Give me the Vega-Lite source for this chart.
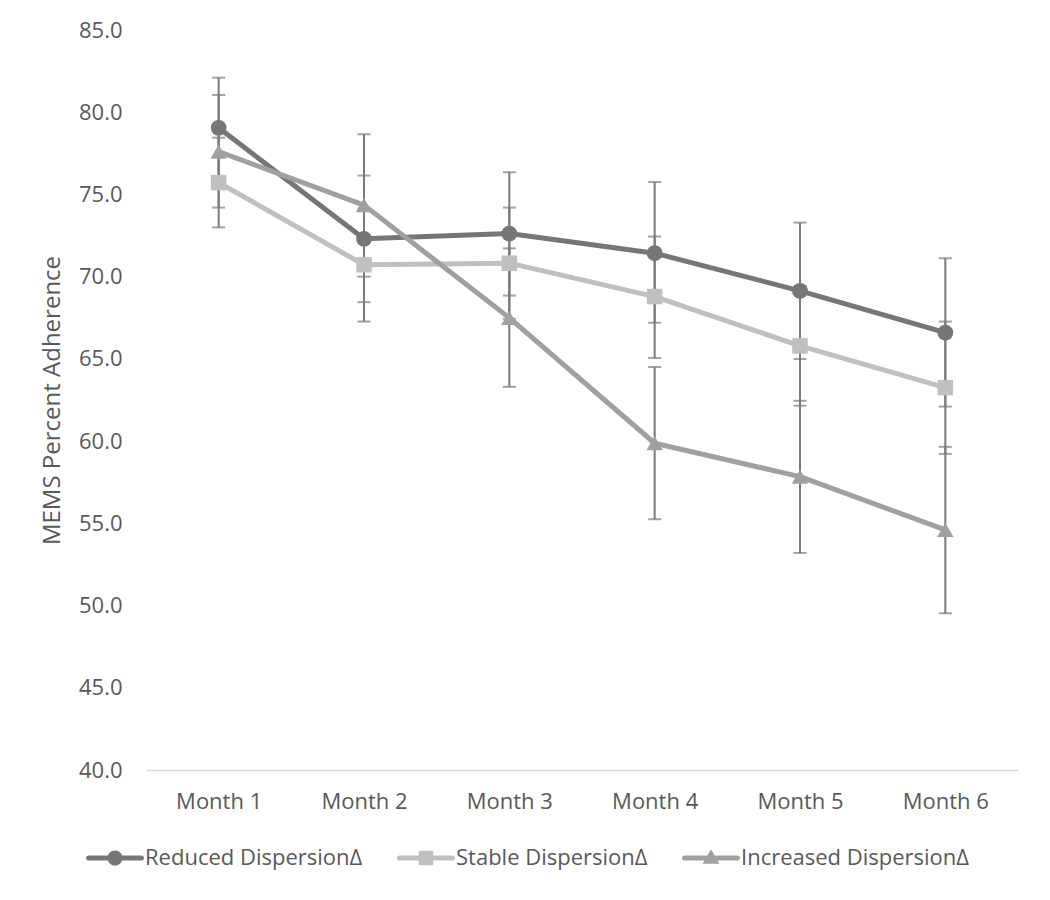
{
  "$schema": "https://vega.github.io/schema/vega-lite/v6.json",
  "width": 872,
  "height": 740,
  "autosize": {"type": "none"},
  "padding": {"left": 146, "top": 30, "right": 32, "bottom": 130},
  "background": "white",
  "config": {
    "view": {"stroke": null},
    "font": "Open Sans",
    "axis": {"labelFont": "Open Sans", "titleFont": "Open Sans", "labelColor": "#595959", "titleColor": "#595959", "grid": false, "ticks": false},
    "legend": {"labelFont": "Open Sans", "labelColor": "#595959"}
  },
  "data": {
    "values": [
      {"month": "Month 1", "series": "Reduced DispersionΔ", "mean": 79.05, "lo": 76.0, "hi": 82.1},
      {"month": "Month 2", "series": "Reduced DispersionΔ", "mean": 72.3, "lo": 68.45, "hi": 76.15},
      {"month": "Month 3", "series": "Reduced DispersionΔ", "mean": 72.62, "lo": 68.85, "hi": 76.35},
      {"month": "Month 4", "series": "Reduced DispersionΔ", "mean": 71.43, "lo": 67.2, "hi": 75.75},
      {"month": "Month 5", "series": "Reduced DispersionΔ", "mean": 69.14, "lo": 64.99, "hi": 73.29},
      {"month": "Month 6", "series": "Reduced DispersionΔ", "mean": 66.6, "lo": 62.1, "hi": 71.12},
      {"month": "Month 1", "series": "Stable DispersionΔ", "mean": 75.72, "lo": 73.0, "hi": 78.45},
      {"month": "Month 2", "series": "Stable DispersionΔ", "mean": 70.72, "lo": 67.27, "hi": 74.15},
      {"month": "Month 3", "series": "Stable DispersionΔ", "mean": 70.82, "lo": 67.44, "hi": 74.2},
      {"month": "Month 4", "series": "Stable DispersionΔ", "mean": 68.79, "lo": 65.05, "hi": 72.45},
      {"month": "Month 5", "series": "Stable DispersionΔ", "mean": 65.79, "lo": 62.15, "hi": 69.43},
      {"month": "Month 6", "series": "Stable DispersionΔ", "mean": 63.25, "lo": 59.22, "hi": 67.27},
      {"month": "Month 1", "series": "Increased DispersionΔ", "mean": 77.6, "lo": 74.2, "hi": 81.05},
      {"month": "Month 2", "series": "Increased DispersionΔ", "mean": 74.35, "lo": 70.0, "hi": 78.66},
      {"month": "Month 3", "series": "Increased DispersionΔ", "mean": 67.5, "lo": 63.3, "hi": 71.72},
      {"month": "Month 4", "series": "Increased DispersionΔ", "mean": 59.87, "lo": 55.25, "hi": 64.5},
      {"month": "Month 5", "series": "Increased DispersionΔ", "mean": 57.84, "lo": 53.2, "hi": 62.45},
      {"month": "Month 6", "series": "Increased DispersionΔ", "mean": 54.6, "lo": 49.53, "hi": 59.65}
    ]
  },
  "encoding": {
    "x": {
      "field": "month", "type": "nominal", "title": null,
      "scale": {"type": "point", "padding": 0.5},
      "axis": {"labelAngle": 0, "labelFontSize": 22, "labelPadding": 21, "domainColor": "#d9d9d9", "domainWidth": 1.5}
    },
    "y": {
      "field": "mean", "type": "quantitative",
      "title": "MEMS Percent Adherence",
      "scale": {"domain": [40, 85], "nice": false, "zero": false},
      "axis": {"values": [40, 45, 50, 55, 60, 65, 70, 75, 80, 85], "format": ".1f", "labelFontSize": 22, "labelPadding": 24, "domain": false, "titleFontSize": 24, "titleFontWeight": "normal", "titlePadding": 14}
    }
  },
  "layer": [
    {
      "mark": {"type": "rule", "color": "#7a7a7a", "strokeWidth": 2},
      "encoding": {
        "y": {"field": "lo", "type": "quantitative"},
        "y2": {"field": "hi"}
      }
    },
    {
      "mark": {"type": "tick", "color": "#7a7a7a", "thickness": 2, "size": 13},
      "encoding": {"y": {"field": "lo", "type": "quantitative"}}
    },
    {
      "mark": {"type": "tick", "color": "#7a7a7a", "thickness": 2, "size": 13},
      "encoding": {"y": {"field": "hi", "type": "quantitative"}}
    },
    {
      "mark": {"type": "line", "strokeWidth": 5, "strokeJoin": "round", "strokeCap": "round"},
      "encoding": {
        "color": {
          "field": "series", "type": "nominal",
          "scale": {"domain": ["Reduced DispersionΔ", "Stable DispersionΔ", "Increased DispersionΔ"], "range": ["#767676", "#c0c0c0", "#a0a0a0"]},
          "legend": {
            "title": null, "orient": "none", "direction": "horizontal",
            "legendX": -60, "legendY": 799,
            "symbolSize": 3364, "labelFontSize": 22, "labelOffset": 1, "columnPadding": 33, "labelLimit": 0,
            "symbolStrokeWidth": 0,
            "encode": {
              "symbols": {
                "update": {
                  "shape": {"signal": "datum.value == 'Reduced DispersionΔ' ? 'M-0.91,-0.09 H0.91 A0.09,0.09 0 0 1 0.91,0.09 H-0.91 A0.09,0.09 0 0 1 -0.91,-0.09 Z M-0.26,0 A0.26,0.26 0 1 1 0.26,0 A0.26,0.26 0 1 1 -0.26,0 Z' : datum.value == 'Stable DispersionΔ' ? 'M-0.91,-0.09 H0.91 A0.09,0.09 0 0 1 0.91,0.09 H-0.91 A0.09,0.09 0 0 1 -0.91,-0.09 Z M-0.25,-0.25 H0.25 V0.25 H-0.25 Z' : 'M-0.91,-0.09 H0.91 A0.09,0.09 0 0 1 0.91,0.09 H-0.91 A0.09,0.09 0 0 1 -0.91,-0.09 Z M0,-0.3 L0.29,0.2 H-0.29 Z'"},
                  "fill": {"scale": "color", "field": "value"},
                  "stroke": {"value": "transparent"},
                  "strokeWidth": {"value": 0},
                  "opacity": {"value": 1}
                }
              }
            }
          }
        },
        "detail": {"field": "series"}
      }
    },
    {
      "transform": [{"filter": "datum.series == 'Reduced DispersionΔ'"}],
      "mark": {"type": "point", "shape": "circle", "filled": true, "opacity": 1, "strokeWidth": 0, "size": 250, "color": "#767676"}
    },
    {
      "transform": [{"filter": "datum.series == 'Stable DispersionΔ'"}],
      "mark": {"type": "point", "shape": "square", "filled": true, "opacity": 1, "strokeWidth": 0, "size": 240, "color": "#c0c0c0"}
    },
    {
      "transform": [{"filter": "datum.series == 'Increased DispersionΔ'"}],
      "mark": {"type": "point", "shape": "triangle-up", "filled": true, "opacity": 1, "strokeWidth": 0, "size": 270, "color": "#a0a0a0"}
    }
  ]
}
